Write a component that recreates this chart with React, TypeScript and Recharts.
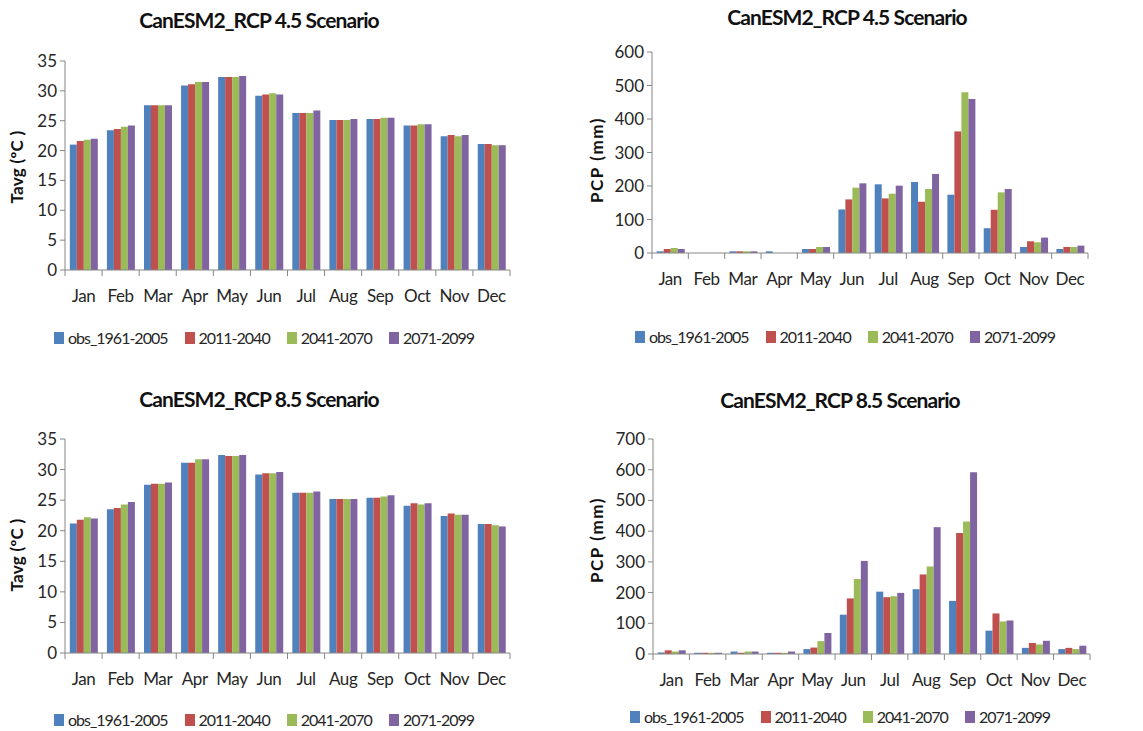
import { BarChart, Bar, XAxis, YAxis } from 'recharts';

const months = ['Jan', 'Feb', 'Mar', 'Apr', 'May', 'Jun', 'Jul', 'Aug', 'Sep', 'Oct', 'Nov', 'Dec'];
const seriesNames = ['obs_1961-2005', '2011-2040', '2041-2070', '2071-2099'];
const COLORS = ['#4F81BD', '#C0504D', '#9BBB59', '#8064A2'];

// Tavg RCP 4.5
const t45Obs = [21.0, 23.4, 27.6, 30.9, 32.3, 29.2, 26.3, 25.1, 25.3, 24.2, 22.4, 21.1];
const t45P1 = [21.6, 23.6, 27.6, 31.1, 32.3, 29.4, 26.3, 25.1, 25.3, 24.2, 22.6, 21.1];
const t45P2 = [21.8, 24.0, 27.6, 31.5, 32.3, 29.6, 26.3, 25.1, 25.5, 24.4, 22.4, 20.9];
const t45P3 = [22.0, 24.2, 27.6, 31.5, 32.5, 29.4, 26.7, 25.3, 25.5, 24.4, 22.6, 20.9];

// PCP RCP 4.5
const p45Obs = [5, 0, 5, 5, 12, 130, 205, 212, 174, 74, 18, 12];
const p45P1 = [12, 0, 5, 0, 12, 160, 163, 153, 363, 129, 35, 18];
const p45P2 = [15, 0, 5, 0, 18, 195, 177, 191, 480, 181, 32, 18];
const p45P3 = [12, 0, 5, 0, 18, 208, 201, 236, 460, 191, 46, 22];

// Tavg RCP 8.5
const t85Obs = [21.2, 23.5, 27.5, 31.1, 32.4, 29.2, 26.2, 25.2, 25.4, 24.1, 22.4, 21.1];
const t85P1 = [21.8, 23.7, 27.7, 31.1, 32.2, 29.4, 26.2, 25.2, 25.4, 24.5, 22.8, 21.1];
const t85P2 = [22.2, 24.3, 27.7, 31.7, 32.2, 29.4, 26.2, 25.2, 25.6, 24.3, 22.6, 20.9];
const t85P3 = [22.0, 24.7, 27.9, 31.7, 32.4, 29.6, 26.4, 25.2, 25.8, 24.5, 22.6, 20.7];

// PCP RCP 8.5
const p85Obs = [5, 4, 8, 4, 16, 128, 203, 211, 173, 76, 20, 16];
const p85P1 = [12, 4, 4, 4, 21, 181, 185, 259, 394, 132, 36, 20];
const p85P2 = [8, 4, 8, 4, 42, 244, 188, 285, 431, 106, 31, 16];
const p85P3 = [12, 4, 8, 8, 68, 303, 199, 413, 592, 109, 43, 27];

const tempTicks = [0, 5, 10, 15, 20, 25, 30, 35];
const pcp45Ticks = [0, 100, 200, 300, 400, 500, 600];
const pcp85Ticks = [0, 100, 200, 300, 400, 500, 600, 700];

const build = (a: number[], b: number[], c: number[], d: number[]) =>
  months.map((m, i) => ({ month: m, s0: a[i], s1: b[i], s2: c[i], s3: d[i] }));

const FONT = 'Lato, "Open Sans", sans-serif';
const AXIS = '#868686';
const TEXT = '#262626';

function MonthTick(props: any) {
  const { x, y, payload, index, band } = props;
  return (
    <g>
      <line x1={x - band / 2} x2={x - band / 2} y1={y} y2={y + 6} stroke={AXIS} />
      {index === 11 && <line x1={x + band / 2} x2={x + band / 2} y1={y} y2={y + 6} stroke={AXIS} />}
      <text
        x={x}
        y={y + 28}
        textAnchor="middle"
        dominantBaseline="middle"
        fill={TEXT}
        fontSize={17}
        letterSpacing={-0.4}
        fontFamily={FONT}
      >
        {payload.value}
      </text>
    </g>
  );
}

interface PanelProps {
  left: number;
  top: number;
  width: number;
  height: number;
  margin: { top: number; right: number; bottom: number; left: number };
  data: any[];
  ticks: number[];
  title: string;
  titleX: number;
  titleY: number;
  yLabel: string;
  yLabelX: number;
  yLabelY: number;
  yLabelSpacing: number;
  legendX: number;
  legendY: number;
}

function Panel(p: PanelProps) {
  const yAxisW = 35;
  const plotW = p.width - p.margin.left - yAxisW - p.margin.right;
  const band = plotW / 12;
  const max = p.ticks[p.ticks.length - 1];
  return (
    <div style={{ position: 'absolute', left: p.left, top: p.top, width: p.width, height: p.height }}>
      <div
        style={{
          position: 'absolute',
          left: p.titleX - 200,
          width: 400,
          top: p.titleY - 14,
          textAlign: 'center',
          fontWeight: 'bold',
          fontSize: 21,
          letterSpacing: -0.9,
          fontFamily: FONT,
          color: '#111',
          lineHeight: '28px',
        }}
      >
        {p.title}
      </div>
      <div
        style={{
          position: 'absolute',
          left: p.yLabelX - 60,
          top: p.yLabelY - 10,
          width: 120,
          height: 20,
          lineHeight: '20px',
          textAlign: 'center',
          transform: 'rotate(-90deg)',
          fontWeight: 'bold',
          fontSize: 17,
          letterSpacing: p.yLabelSpacing,
          fontFamily: FONT,
          color: '#111',
        }}
      >
        {p.yLabel}
      </div>
      <BarChart width={p.width} height={p.height} data={p.data} margin={p.margin} barCategoryGap="13%" barGap={0}>
        <XAxis
          dataKey="month"
          stroke={AXIS}
          tickLine={false}
          tickSize={0}
          tickMargin={0}
          height={30}
          interval={0}
          tick={<MonthTick band={band} />}
        />
        <YAxis
          width={yAxisW}
          domain={[0, max]}
          ticks={p.ticks}
          interval={0}
          stroke={AXIS}
          tickSize={5}
          tickMargin={3}
          tick={{ fill: TEXT, fontSize: 17, fontFamily: FONT }}
        />
        {seriesNames.map((n, i) => (
          <Bar key={n} dataKey={`s${i}`} name={n} fill={COLORS[i]} isAnimationActive={false} />
        ))}
      </BarChart>
      <div
        style={{
          position: 'absolute',
          left: p.legendX,
          top: p.legendY - 11,
          display: 'flex',
          gap: 17,
          fontFamily: FONT,
          fontSize: 16,
          letterSpacing: -1,
          color: TEXT,
          lineHeight: '22px',
          whiteSpace: 'nowrap',
        }}
      >
        {seriesNames.map((n, i) => (
          <div key={n} style={{ display: 'flex', alignItems: 'center' }}>
            <span style={{ width: 10, height: 12, background: COLORS[i], marginRight: 4, display: 'inline-block' }} />
            {n}
          </div>
        ))}
      </div>
    </div>
  );
}

export default function App() {
  return (
    <div style={{ position: 'absolute', left: 0, top: 0, width: 1143, height: 731, background: '#fff' }}>
      <Panel
        left={0}
        top={0}
        width={570}
        height={360}
        margin={{ top: 61, right: 60, bottom: 60, left: 30 }}
        data={build(t45Obs, t45P1, t45P2, t45P3)}
        ticks={tempTicks}
        title="CanESM2_RCP 4.5 Scenario"
        titleX={259}
        titleY={20}
        yLabel="Tavg (ºC )"
        yLabelSpacing={0.3}
        yLabelX={17}
        yLabelY={167}
        legendX={54}
        legendY={338}
      />
      <Panel
        left={570}
        top={0}
        width={573}
        height={360}
        margin={{ top: 52, right: 55, bottom: 77, left: 47 }}
        data={build(p45Obs, p45P1, p45P2, p45P3)}
        ticks={pcp45Ticks}
        title="CanESM2_RCP 4.5 Scenario"
        titleX={277}
        titleY={17}
        yLabelX={27}
        yLabelY={160}
        yLabel="PCP (mm)"
        yLabelSpacing={1.6}
        legendX={65}
        legendY={337}
      />
      <Panel
        left={0}
        top={370}
        width={570}
        height={361}
        margin={{ top: 69, right: 60, bottom: 48, left: 30 }}
        data={build(t85Obs, t85P1, t85P2, t85P3)}
        ticks={tempTicks}
        title="CanESM2_RCP 8.5 Scenario"
        titleX={259}
        titleY={29}
        yLabel="Tavg (ºC )"
        yLabelSpacing={0.3}
        yLabelX={17}
        yLabelY={185}
        legendX={54}
        legendY={350}
      />
      <Panel
        left={570}
        top={370}
        width={573}
        height={361}
        margin={{ top: 69, right: 53, bottom: 47, left: 48 }}
        data={build(p85Obs, p85P1, p85P2, p85P3)}
        ticks={pcp85Ticks}
        title="CanESM2_RCP 8.5 Scenario"
        titleX={270}
        titleY={30}
        yLabel="PCP (mm)"
        yLabelSpacing={1.6}
        yLabelX={27}
        yLabelY={170}
        legendX={60}
        legendY={347}
      />
    </div>
  );
}
